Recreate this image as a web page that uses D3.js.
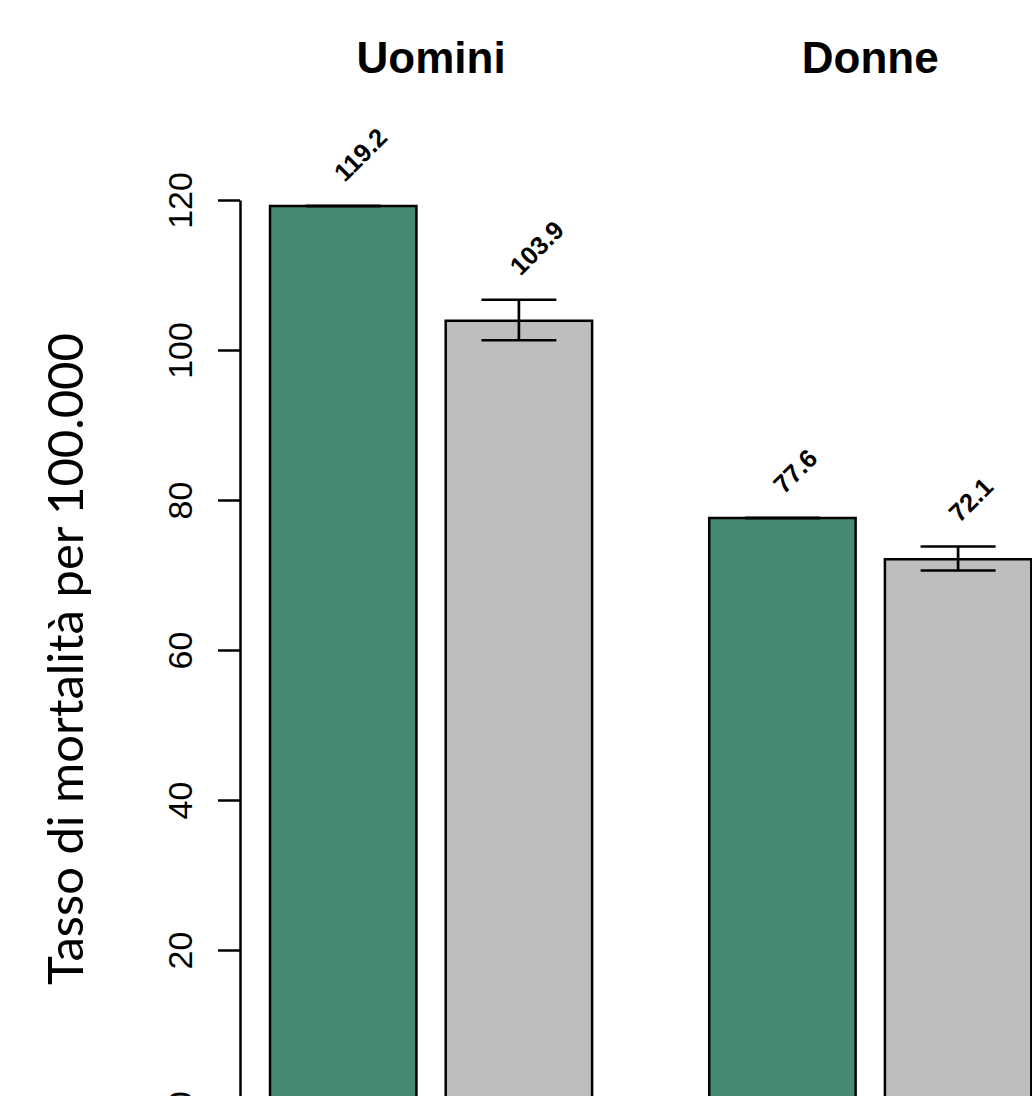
<!DOCTYPE html>
<html><head><meta charset="utf-8">
<script src="https://cdn.jsdelivr.net/npm/d3@7"></script>
<style>html,body{margin:0;padding:0;background:#fff;overflow:hidden}</style>
</head><body>
<svg id="chart" width="1032" height="1096"></svg>
<script>
// ---- data ----
const groups = ["Uomini", "Donne"];
const seriesNames = ["Osservato", "Atteso"];
const observed = [119.2, 77.6];
const observedLower = [119.2, 77.6];
const observedUpper = [119.2, 77.6];
const expected = [103.9, 72.1];
const expectedLower = [101.3, 70.6];
const expectedUpper = [106.7, 73.8];
const valueLabels = ["119.2", "103.9", "77.6", "72.1"];
const yTicks = [0, 20, 40, 60, 80, 100, 120];
const yTitle = "Tasso di mortalità per 100.000";
const colors = ["#468A73", "#BEBEBE"];

const svg = d3.select("#chart");

const y = d3.scaleLinear().domain([0, 120]).range([1100, 200]);
// bar units (R barplot-like layout: within-group space 0.2, between-group 0.8)
const x = d3.scaleLinear().domain([0, 6]).range([152.9, 1031.3]);
const spaceWithin = 0.2, spaceBetween = 0.8;

const bars = [];
let pos = 0;
groups.forEach((g, gi) => {
  const vals = [observed[gi], expected[gi]];
  const lo = [observedLower[gi], expectedLower[gi]];
  const hi = [observedUpper[gi], expectedUpper[gi]];
  vals.forEach((v, si) => {
    pos += (si === 0 ? spaceBetween : spaceWithin);
    bars.push({group: g, gi, si, value: v, lower: lo[si], upper: hi[si], left: pos, right: pos + 1,
               label: valueLabels[gi * 2 + si]});
    pos += 1;
  });
});

// bars
svg.append("g").selectAll("rect").data(bars).join("rect")
  .attr("x", d => x(d.left))
  .attr("y", d => y(d.value))
  .attr("width", d => x(d.right) - x(d.left))
  .attr("height", d => y(0) - y(d.value))
  .attr("fill", d => colors[d.si])
  .attr("stroke", "#000")
  .attr("stroke-width", 2.5);

// error bars
const capHalf = 37.5;
const eb = svg.append("g").attr("stroke", "#000").attr("stroke-width", 2.7).attr("fill", "none");
bars.forEach(d => {
  const cx = (x(d.left) + x(d.right)) / 2;
  eb.append("line").attr("x1", cx).attr("x2", cx).attr("y1", y(d.lower)).attr("y2", y(d.upper));
  eb.append("line").attr("x1", cx - capHalf).attr("x2", cx + capHalf).attr("y1", y(d.upper)).attr("y2", y(d.upper));
  eb.append("line").attr("x1", cx - capHalf).attr("x2", cx + capHalf).attr("y1", y(d.lower)).attr("y2", y(d.lower));
});

// value labels (rotated 45°)
svg.append("g").selectAll("text").data(bars).join("text")
  .attr("transform", d => {
    const cx = (x(d.left) + x(d.right)) / 2;
    return `translate(${cx + 1.5},${y(d.upper) - 23}) rotate(-45)`;
  })
  .attr("font-family", "'Liberation Sans', Arial, sans-serif")
  .attr("font-weight", "bold")
  .attr("font-size", 25.5)
  .attr("text-anchor", "start")
  .text(d => d.label);

// group titles
svg.append("g").selectAll("text").data(groups).join("text")
  .attr("x", (g, gi) => {
    const b = bars.filter(d => d.gi === gi);
    return (x(b[0].left) + x(b[b.length - 1].right)) / 2;
  })
  .attr("y", 73)
  .attr("text-anchor", "middle")
  .attr("font-family", "'Liberation Sans', Arial, sans-serif")
  .attr("font-weight", "bold")
  .attr("font-size", 44)
  .text(d => d);

// y axis
const axisG = svg.append("g").attr("transform", "translate(240,0)")
  .call(d3.axisLeft(y).tickValues(yTicks).tickSize(22).tickSizeOuter(0).tickFormat(d3.format("d")));
axisG.select(".domain").attr("stroke", "#000").attr("stroke-width", 2.5);
axisG.selectAll(".tick line").attr("stroke", "#000").attr("stroke-width", 2.5);
axisG.selectAll(".tick text")
  .attr("x", null).attr("dy", null)
  .attr("transform", "translate(-48,0) rotate(-90)")
  .attr("text-anchor", "middle")
  .attr("fill", "#000")
  .attr("font-family", "'Liberation Sans', Arial, sans-serif")
  .attr("font-size", 34);

// y axis title
const title = svg.append("text")
  .attr("transform", "translate(83,659) rotate(-90)")
  .attr("text-anchor", "middle")
  .attr("font-family", "Lato, 'Open Sans', sans-serif")
  .attr("font-size", 48)
  .attr("fill", "#000")
  .text(yTitle);
const len = title.node().getComputedTextLength();
title.attr("font-size", 48 * 652 / len);
</script>
</body></html>
